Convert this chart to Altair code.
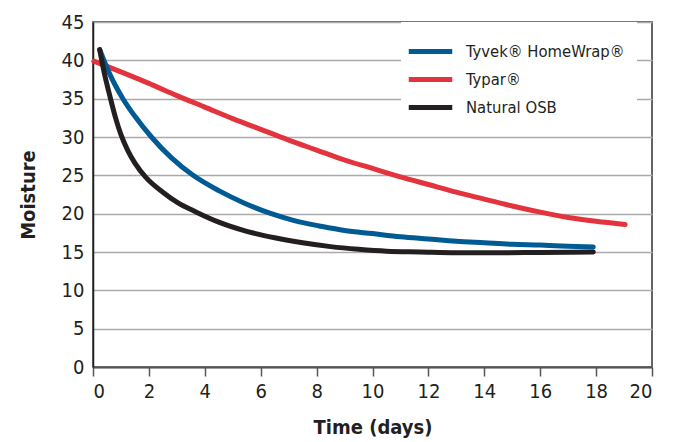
import altair as alt
import pandas as pd

series = ["Tyvek® HomeWrap®", "Typar®", "Natural OSB"]
colors = ["#005a94", "#e3343d", "#231f20"]

typar_t = [0.03, 1, 2, 3, 4, 5, 6, 7, 8, 9, 10, 11, 12, 13, 14, 15, 16, 17, 18, 19.04]
typar_m = [39.9, 38.5, 37.0, 35.4, 33.9, 32.4, 31.0, 29.6, 28.3, 27.0, 25.9, 24.8,
           23.8, 22.8, 21.9, 21.0, 20.2, 19.5, 19.0, 18.6]

tyvek_t = [0.24, 0.6, 1.07, 1.5, 2.09, 2.8, 3.58, 4.5, 5.4, 6.3, 7.2, 8.1, 9, 10, 11,
           12, 13, 14, 15, 16, 17, 17.9]
tyvek_m = [41.4, 38.2, 35.0, 32.7, 30.0, 27.3, 25.0, 23.0, 21.4, 20.1, 19.1, 18.4, 17.8,
           17.4, 17.0, 16.7, 16.4, 16.2, 16.0, 15.9, 15.75, 15.65]

osb_t = [0.24, 0.4, 0.6, 0.8, 1.0, 1.25, 1.5, 1.9, 2.5, 3.0, 3.7, 4.5, 5.5, 6.5, 7.5,
         8.5, 9.5, 10.5, 11.7, 13, 14.5, 16, 17.9]
osb_m = [41.4, 38.4, 35.4, 32.6, 30.3, 28.2, 26.6, 24.7, 22.8, 21.5, 20.2, 18.9, 17.7,
         16.85, 16.2, 15.7, 15.35, 15.1, 15.0, 14.9, 14.9, 14.95, 15.0]

x_ticks = list(range(0, 21, 2))
y_ticks = list(range(0, 46, 5))

rows = []
for order, (name, ts, ms) in enumerate([
    ("Typar®", typar_t, typar_m),
    ("Tyvek® HomeWrap®", tyvek_t, tyvek_m),
    ("Natural OSB", osb_t, osb_m),
]):
    for t, m in zip(ts, ms):
        rows.append({"series": name, "t": t, "m": m, "k": order})
df = pd.DataFrame(rows)

FONT = "DejaVu Sans Condensed, Liberation Sans, sans-serif"

chart = alt.Chart(df).mark_line(
    strokeWidth=5, strokeCap="round", strokeJoin="round", interpolate="monotone"
).encode(
    x=alt.X("t:Q", scale=alt.Scale(domain=[0, 20], nice=False),
            axis=alt.Axis(values=x_ticks, title="Time (days)", grid=False,
                          domainColor="#555555", domainWidth=2.2,
                          tickColor="#555555", tickWidth=1.5, tickSize=9,
                          labelFontSize=20, labelPadding=5, labelColor="#231f20",
                          titleFontSize=20, titleFontWeight="bold", titleColor="#231f20",
                          titlePadding=16)),
    y=alt.Y("m:Q", scale=alt.Scale(domain=[0, 45], nice=False),
            axis=alt.Axis(values=y_ticks, title="Moisture", grid=True,
                          gridColor="#aaaaaa", gridWidth=1.5,
                          domainColor="#231f20", domainWidth=1.5, ticks=False,
                          labelFontSize=20, labelPadding=9, labelColor="#231f20",
                          titleFontSize=20, titleFontWeight="bold", titleColor="#231f20",
                          titlePadding=23)),
    color=alt.Color("series:N", scale=alt.Scale(domain=series, range=colors),
                    legend=alt.Legend(title=None, orient="none", legendX=308, legendY=0,
                                      fillColor="white", padding=12,
                                      symbolType="M-1.45,0H1.45", symbolSize=900,
                                      symbolStrokeWidth=5, labelFontSize=16.5,
                                      labelColor="#231f20", labelOffset=18,
                                      labelLimit=400, rowPadding=0)),
    order=alt.Order("k:Q"),
    detail="series:N",
).properties(
    width=559, height=345,
    autosize=alt.AutoSizeParams(type="none"),
    padding={"left": 85, "top": 14, "right": 19, "bottom": 75},
).configure(font=FONT).configure_view(stroke="#333333", strokeWidth=1.5)

chart.save("out.html", embed_options={"renderer": "svg", "actions": False})
